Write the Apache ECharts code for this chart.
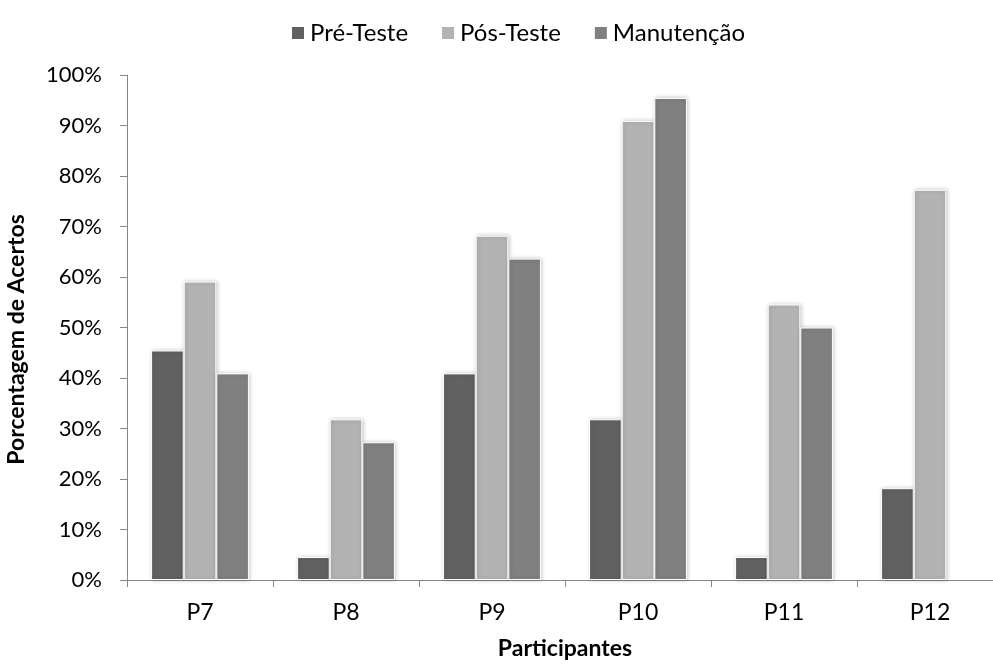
<!DOCTYPE html>
<html>
<head>
<meta charset="utf-8">
<script src="https://cdn.jsdelivr.net/npm/echarts@6/dist/echarts.min.js"></script>
<style>html,body{margin:0;padding:0;background:#fff}#c{width:993px;height:665px}</style>
</head>
<body>
<div id="c"></div>
<script>
var categories = ['P7', 'P8', 'P9', 'P10', 'P11', 'P12'];
var seriesNames = ['Pré-Teste', 'Pós-Teste', 'Manutenção'];
var preTeste = [45.45, 4.55, 40.91, 31.82, 4.55, 18.18];
var posTeste = [59.09, 31.82, 68.18, 90.91, 54.55, 77.27];
var manutencao = [40.91, 27.27, 63.64, 95.45, 50.0, null];
var yTicks = [0, 10, 20, 30, 40, 50, 60, 70, 80, 90, 100];
var colors = ['#616161', '#b3b3b3', '#808080'];

var FONT = 'Lato, "Open Sans", sans-serif';
var chart = echarts.init(document.getElementById('c'), null, {renderer: 'canvas'});
function mk(name, data, color) {
  return {
    name: name, type: 'bar',
    data: data.map(function (v) { return v === null ? '-' : v; }),
    barGap: '0%', barCategoryGap: '33%',
    itemStyle: {color: color, borderColor: '#ffffff', borderWidth: 1,
      shadowColor: 'rgba(0,0,0,0.22)', shadowBlur: 4, shadowOffsetX: 1, shadowOffsetY: 0}
  };
}
chart.setOption({
  animation: false,
  backgroundColor: '#ffffff',
  textStyle: {fontFamily: FONT},
  legend: {
    data: seriesNames, top: 16, left: 285, icon: 'rect', itemWidth: 14, itemHeight: 14, itemGap: 32,
    textStyle: {fontFamily: FONT, fontSize: 24, color: '#000'}
  },
  grid: {left: 127, top: 75, width: 876, bottom: 85, containLabel: false, outerBoundsMode: 'none'},
  xAxis: {
    type: 'category', data: categories,
    name: 'Participantes', nameLocation: 'middle', nameGap: 57,
    nameTextStyle: {fontFamily: FONT, fontSize: 23, fontWeight: 'bold', color: '#000'},
    axisLine: {lineStyle: {color: '#868686', width: 1}},
    axisTick: {show: true, length: 7, lineStyle: {color: '#868686'}},
    axisLabel: {fontFamily: FONT, fontSize: 23, color: '#000', margin: 21}
  },
  yAxis: {
    type: 'value', min: yTicks[0], max: yTicks[yTicks.length - 1], interval: 10,
    name: 'Porcentagem de Acertos', nameLocation: 'middle', nameGap: 99, nameRotate: 90,
    nameTextStyle: {fontFamily: FONT, fontSize: 23, fontWeight: 'bold', color: '#000', padding: [0, 24, 0, 0]},
    axisLine: {show: true, lineStyle: {color: '#868686', width: 1}},
    axisTick: {show: true, length: 7, lineStyle: {color: '#868686'}},
    splitLine: {show: false},
    axisLabel: {fontFamily: FONT, fontSize: 22, color: '#000', margin: 25, formatter: '{value}%'}
  },
  series: [mk(seriesNames[0], preTeste, colors[0]), mk(seriesNames[1], posTeste, colors[1]), mk(seriesNames[2], manutencao, colors[2])]
});
</script>
</body>
</html>
